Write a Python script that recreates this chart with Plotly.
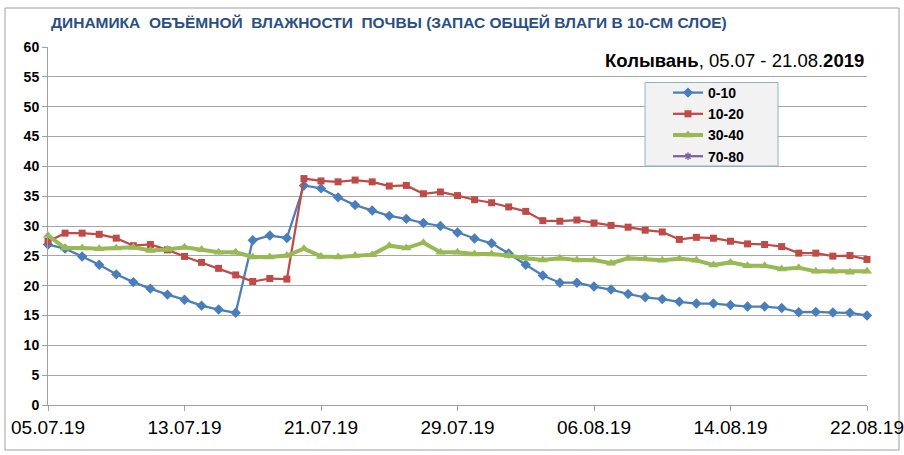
import plotly.graph_objects as go
import pandas as pd

dates = pd.date_range("2019-07-05", "2019-08-22", freq="D")

s_0_10 = [26.9, 26.2, 24.9, 23.5, 21.9, 20.6, 19.5, 18.5, 17.65, 16.65,
          16.0, 15.45, 27.6, 28.4, 28.0, 36.8, 36.3, 34.8, 33.5, 32.6,
          31.7, 31.2, 30.5, 30.0, 28.9, 27.9, 27.1, 25.4, 23.5, 21.7,
          20.5, 20.5, 19.85, 19.35, 18.6, 18.05, 17.75, 17.3, 17.0, 17.0,
          16.75, 16.5, 16.5, 16.25, 15.55, 15.6, 15.5, 15.45, 15.0]
s_10_20 = [27.4, 28.8, 28.8, 28.6, 27.96, 26.7, 26.9, 26.0, 24.9, 23.9,
           22.9, 21.8, 20.7, 21.2, 21.1, 37.95, 37.55, 37.4, 37.7, 37.4,
           36.7, 36.8, 35.4, 35.7, 35.1, 34.4, 33.9, 33.2, 32.45, 30.9,
           30.8, 31.0, 30.5, 30.1, 29.8, 29.3, 29.0, 27.75, 28.1, 27.95,
           27.45, 27.0, 26.9, 26.55, 25.45, 25.45, 24.95, 25.05, 24.4]
s_30_40 = [28.4, 26.3, 26.3, 26.2, 26.3, 26.45, 25.9, 26.05, 26.45, 26.05,
           25.6, 25.6, 24.8, 24.8, 25.05, 26.2, 24.9, 24.8, 25.05, 25.2,
           26.7, 26.3, 27.2, 25.6, 25.6, 25.3, 25.3, 25.05, 24.6, 24.3,
           24.6, 24.3, 24.3, 23.75, 24.6, 24.5, 24.25, 24.5, 24.25, 23.45,
           23.9, 23.35, 23.35, 22.8, 23.0, 22.4, 22.4, 22.25, 22.4]
s_70_80 = [None] * len(dates)

# plot area in pixels: x 48..867, y 47..405
PW, PH = 819.0, 358.0


def px(xp):
    return (xp - 48) / PW


def py(yp):
    return (405 - yp) / PH


fig = go.Figure()
fig.add_trace(go.Scatter(x=dates, y=s_0_10, name="0-10", mode="lines+markers",
                         line=dict(color="#4A7EBB", width=2.25),
                         marker=dict(symbol="diamond", size=8, color="#4A7EBB"),
                         cliponaxis=False))
fig.add_trace(go.Scatter(x=dates, y=s_10_20, name="10-20", mode="lines+markers",
                         line=dict(color="#BE4B48", width=2.25),
                         marker=dict(symbol="square", size=7, color="#BE4B48"),
                         cliponaxis=False))
fig.add_trace(go.Scatter(x=dates, y=s_30_40, name="30-40", mode="lines+markers",
                         line=dict(color="#98B954", width=4),
                         marker=dict(symbol="triangle-up", size=9, color="#98B954"),
                         cliponaxis=False))
fig.add_trace(go.Scatter(x=dates, y=s_70_80, name="70-80", mode="lines+markers",
                         line=dict(color="#7D60A0", width=2.25),
                         marker=dict(symbol="asterisk", size=6, color="#7D60A0",
                                     line=dict(color="#7D60A0", width=1.5))))

fig.update_layout(
    width=904, height=455,
    margin=dict(l=48, r=37, t=47, b=50, autoexpand=False),
    paper_bgcolor="white", plot_bgcolor="white",
    font=dict(family="Liberation Sans, Arial, sans-serif", color="black"),
    showlegend=True,
    legend=dict(x=px(668), y=py(77), xanchor="left", yanchor="top",
                bgcolor="rgba(0,0,0,0)", borderwidth=0,
                font=dict(size=14, family="Liberation Sans, Arial", color="black",
                          weight="bold"),
                tracegroupgap=0, itemwidth=30, traceorder="normal"),
    annotations=[
        dict(text="ДИНАМИКА  ОБЪЁМНОЙ  ВЛАЖНОСТИ  ПОЧВЫ (ЗАПАС ОБЩЕЙ ВЛАГИ В 10-СМ СЛОЕ)",
             xref="paper", yref="paper", x=px(49), y=py(22),
             xanchor="left", yanchor="middle", showarrow=False,
             font=dict(size=15.5, color="#2B4F81", family="Liberation Sans, Arial",
                       weight="bold")),
        dict(text="<b>Колывань</b>, 05.07 - 21.08.<b>2019</b>",
             xref="paper", yref="paper", x=px(866), y=py(60),
             xanchor="right", yanchor="middle", showarrow=False,
             font=dict(size=18.5, color="black", family="Liberation Sans, Arial")),
    ],
    shapes=[
        dict(type="rect", xref="paper", yref="paper",
             x0=px(5), x1=px(899), y0=py(450), y1=py(8),
             line=dict(color="#A0A0A0", width=1), fillcolor="rgba(0,0,0,0)", layer="below"),
        dict(type="rect", xref="paper", yref="paper",
             x0=px(645), x1=px(778), y0=py(166), y1=py(82.5),
             line=dict(color="#8FB3C6", width=1), fillcolor="#F2F2F2", layer="above"),
    ],
)

fig.update_xaxes(
    type="date",
    range=["2019-07-05", "2019-08-22"],
    tick0="2019-07-05", dtick=8 * 86400000,
    tickformat="%d.%m.%y",
    showgrid=False, automargin=False, ticklabeloverflow="allow",
    showline=True, linecolor="#A0A0A0", linewidth=1,
    ticks="outside", ticklen=5, tickcolor="#A0A0A0",
    tickfont=dict(size=19, family="Liberation Sans, Arial", color="black"),
    zeroline=False,
)
fig.update_yaxes(
    range=[0, 60], dtick=5, tick0=0,
    showgrid=True, gridcolor="#A6A6A6", gridwidth=1, automargin=False,
    showline=True, linecolor="#A0A0A0", linewidth=1,
    ticks="outside", ticklen=5, tickcolor="#A0A0A0",
    tickfont=dict(size=14, family="Liberation Sans, Arial", color="black", weight="bold"),
    zeroline=False,
)

fig.write_html("out.html", config={"displayModeBar": False},
               post_script="document.body.style.margin='0';document.body.style.overflow='hidden';")
